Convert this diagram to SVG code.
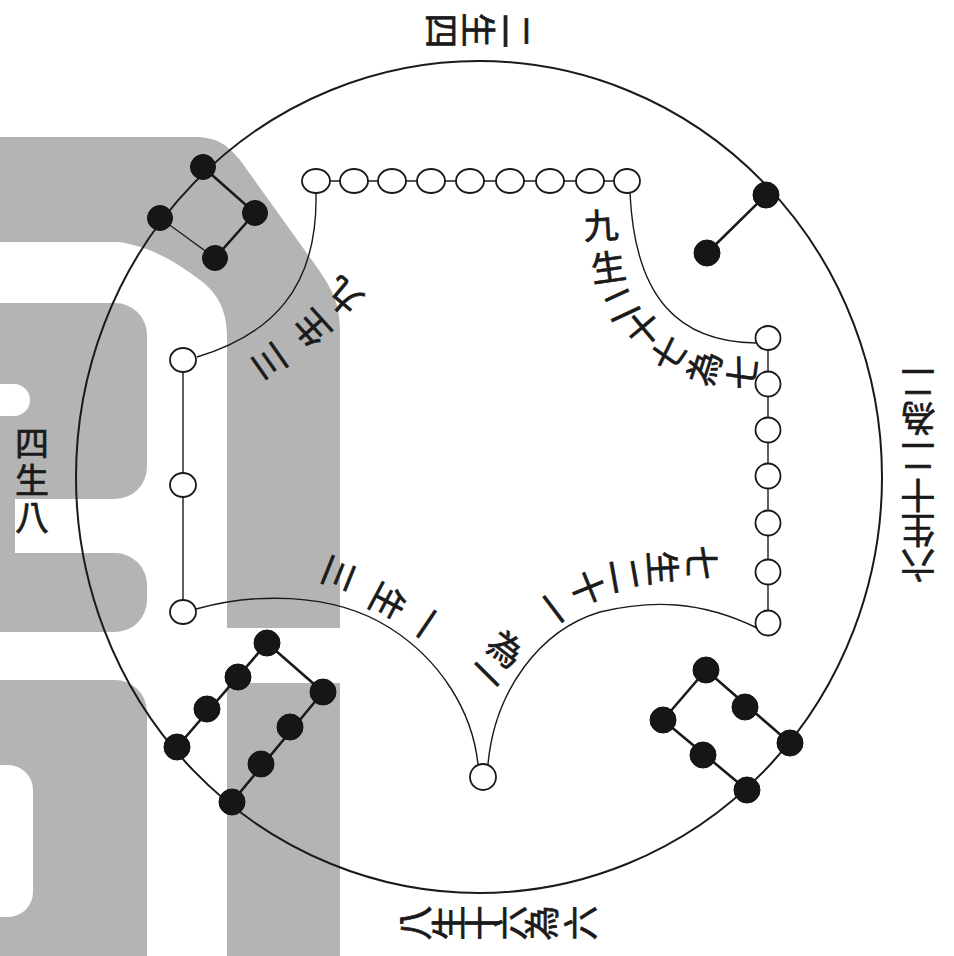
<svg xmlns="http://www.w3.org/2000/svg" width="954" height="956" viewBox="0 0 954 956">
<style>
.bg{fill:#b4b4b4;stroke:none}
.ln{fill:none;stroke:#1a1a1a;stroke-width:1.4}
.lk{fill:none;stroke:#1a1a1a;stroke-width:2.6}
.lt{fill:none;stroke:#1a1a1a;stroke-width:1.3}
.wn{fill:#fff;stroke:#1a1a1a;stroke-width:1.8}
.bn{fill:#161616;stroke:#111;stroke-width:1}
.t{font-family:'Noto Sans CJK TC','Noto Sans CJK SC',sans-serif;font-size:35px;fill:#1a1a1a;stroke:#1a1a1a;stroke-width:0.7;text-anchor:middle;dominant-baseline:central}
.v{font-family:'Noto Sans CJK TC','Noto Sans CJK SC',sans-serif;font-size:34px;fill:#1a1a1a;stroke:#1a1a1a;stroke-width:0.7;writing-mode:vertical-rl;letter-spacing:3px;dominant-baseline:central}
</style>
<rect width="954" height="956" fill="#fff"/>
<g id="background">
<path class="bg" d="M0,137 H195 C218,137 228,146 240,160 L316,266 C334,291 340,306 340,332 V628 H227 V335 C227,312 218,293 200,280 C180,265 155,248 120,242 H0 Z"/>
<path class="bg" fill-rule="evenodd" d="M0,303 H115 A32,32 0 0 1 147,335 V467 A32,32 0 0 1 115,499 H15 V553 H115 A32,32 0 0 1 147,585 V600 A32,32 0 0 1 115,632 H0 Z M0,384 H14 A16,16 0 0 1 14,416 H0 Z"/>
<path class="bg" fill-rule="evenodd" d="M0,680 H115 A32,32 0 0 1 147,712 V956 H0 Z M0,765 H8 A25,25 0 0 1 33,790 V892 A25,25 0 0 1 8,917 H0 Z"/>
<rect class="bg" x="227" y="683" width="113" height="273"/>
</g>
<ellipse id="outer-circle" cx="479" cy="477" rx="403" ry="416" fill="none" stroke="#1a1a1a" stroke-width="2"/>
<g id="connectors">
<path class="ln" d="M316,181 H627"/>
<path class="ln" d="M768,338 V623"/>
<path class="ln" d="M183,360 V612"/>
<path class="ln" d="M316,193 C318,290 270,335 197,357"/>
<path class="ln" d="M630,193 C635,300 680,342 756,343"/>
<path class="ln" d="M757,628 C700,600 650,600 600,612 C540,630 495,690 488,764"/>
<path class="ln" d="M196,609 C250,594 330,590 390,628 C440,660 472,710 478,764"/>
<path class="lk" d="M766,195 L707,253"/>
<path class="lk" d="M203,167 L255,213 L215,258"/>
<path class="lt" d="M160,218 L215,258"/>
<path class="lk" d="M267,643 L177,747 M267,643 L323,692 L232,802"/>
<path class="lk" d="M706,670 L663,720 M706,670 L790,743 M663,720 L747,790"/>
</g>
<g id="node-9">
<ellipse class="wn" cx="316" cy="181" rx="14" ry="12"/>
<ellipse class="wn" cx="354" cy="181" rx="14" ry="12"/>
<ellipse class="wn" cx="392" cy="181" rx="14" ry="12"/>
<ellipse class="wn" cx="431" cy="181" rx="14" ry="12"/>
<ellipse class="wn" cx="470" cy="181" rx="14" ry="12"/>
<ellipse class="wn" cx="510" cy="181" rx="14" ry="12"/>
<ellipse class="wn" cx="550" cy="181" rx="14" ry="12"/>
<ellipse class="wn" cx="590" cy="181" rx="14" ry="12"/>
<ellipse class="wn" cx="627" cy="181" rx="13" ry="12"/>
</g>
<g id="node-7">
<ellipse class="wn" cx="768" cy="338" rx="12.5" ry="12"/>
<ellipse class="wn" cx="768" cy="384" rx="12.5" ry="12.5"/>
<ellipse class="wn" cx="768" cy="430" rx="12.5" ry="12.5"/>
<ellipse class="wn" cx="768" cy="476" rx="12.5" ry="12.5"/>
<ellipse class="wn" cx="768" cy="523" rx="12.5" ry="12.5"/>
<ellipse class="wn" cx="768" cy="572" rx="12.5" ry="12.5"/>
<ellipse class="wn" cx="768" cy="623" rx="12.5" ry="12.5"/>
</g>
<g id="node-3">
<ellipse class="wn" cx="183" cy="360" rx="13" ry="12"/>
<ellipse class="wn" cx="183" cy="485" rx="13" ry="12"/>
<ellipse class="wn" cx="183" cy="612" rx="13" ry="12"/>
</g>
<g id="node-1">
<ellipse class="wn" cx="483" cy="777" rx="13" ry="13"/>
</g>
<g id="node-2">
<circle class="bn" cx="766" cy="195" r="13"/>
<circle class="bn" cx="707" cy="253" r="13"/>
</g>
<g id="node-4">
<circle class="bn" cx="203" cy="167" r="12.5"/>
<circle class="bn" cx="160" cy="218" r="12.5"/>
<circle class="bn" cx="255" cy="213" r="12.5"/>
<circle class="bn" cx="215" cy="258" r="12.5"/>
</g>
<g id="node-8">
<circle class="bn" cx="267" cy="643" r="13"/>
<circle class="bn" cx="238" cy="677" r="13"/>
<circle class="bn" cx="207" cy="709" r="13"/>
<circle class="bn" cx="177" cy="747" r="13"/>
<circle class="bn" cx="323" cy="692" r="13"/>
<circle class="bn" cx="290" cy="727" r="13"/>
<circle class="bn" cx="261" cy="764" r="13"/>
<circle class="bn" cx="232" cy="802" r="13"/>
</g>
<g id="node-6">
<circle class="bn" cx="706" cy="670" r="13"/>
<circle class="bn" cx="663" cy="720" r="13"/>
<circle class="bn" cx="745" cy="707" r="13"/>
<circle class="bn" cx="703" cy="755" r="13"/>
<circle class="bn" cx="790" cy="743" r="13"/>
<circle class="bn" cx="747" cy="790" r="13"/>
</g>
<g id="labels">
<text class="t" transform="translate(518,31) rotate(90)">二</text>
<text class="t" transform="translate(480,30) rotate(90)">生</text>
<text class="t" transform="translate(443,31) rotate(90)">四</text>
<text class="v" x="32" y="426">四生八</text>
<text class="t" transform="translate(412,923) rotate(-90)">八</text>
<text class="t" transform="translate(446,923) rotate(-90)">生</text>
<text class="t" transform="translate(479,923) rotate(-90)">十</text>
<text class="t" transform="translate(508,923) rotate(-90)">六</text>
<text class="t" transform="translate(539,923) rotate(-90)">為</text>
<text class="t" transform="translate(578,923) rotate(-90)">六</text>
<text class="t" transform="translate(918,567) rotate(180)">六</text>
<text class="t" transform="translate(918,532) rotate(180)">生</text>
<text class="t" transform="translate(918,497) rotate(180)">十</text>
<text class="t" transform="translate(918,458) rotate(180)">二</text>
<text class="t" transform="translate(918,420) rotate(180)">為</text>
<text class="t" transform="translate(918,384) rotate(180)">二</text>
<text class="t" transform="translate(267,363) rotate(-125)">三</text>
<text class="t" transform="translate(310,330) rotate(-132)">生</text>
<text class="t" transform="translate(342,298) rotate(-140)">九</text>
<text class="t" transform="translate(601,223) rotate(-3)">九</text>
<text class="t" transform="translate(608,265) rotate(-8)">生</text>
<text class="t" transform="translate(620,302) rotate(-25)">二</text>
<text class="t" transform="translate(642,327) rotate(-40)">十</text>
<text class="t" transform="translate(667,352) rotate(-55)">七</text>
<text class="t" transform="translate(702,367) rotate(-72)">為</text>
<text class="t" transform="translate(740,372) rotate(-82)">七</text>
<text class="t" transform="translate(703,563) rotate(90)">七</text>
<text class="t" transform="translate(665,568) rotate(86)">生</text>
<text class="t" transform="translate(627,575) rotate(80)">二</text>
<text class="t" transform="translate(590,587) rotate(68)">十</text>
<text class="t" transform="translate(555,608) rotate(53)">一</text>
<text class="t" transform="translate(507,647) rotate(38)">為</text>
<text class="t" transform="translate(488,673) rotate(45)">一</text>
<text class="t" transform="translate(428,625) rotate(124)">一</text>
<text class="t" transform="translate(390,603) rotate(118)">生</text>
<text class="t" transform="translate(341,575) rotate(112)">三</text>
</g>
</svg>
